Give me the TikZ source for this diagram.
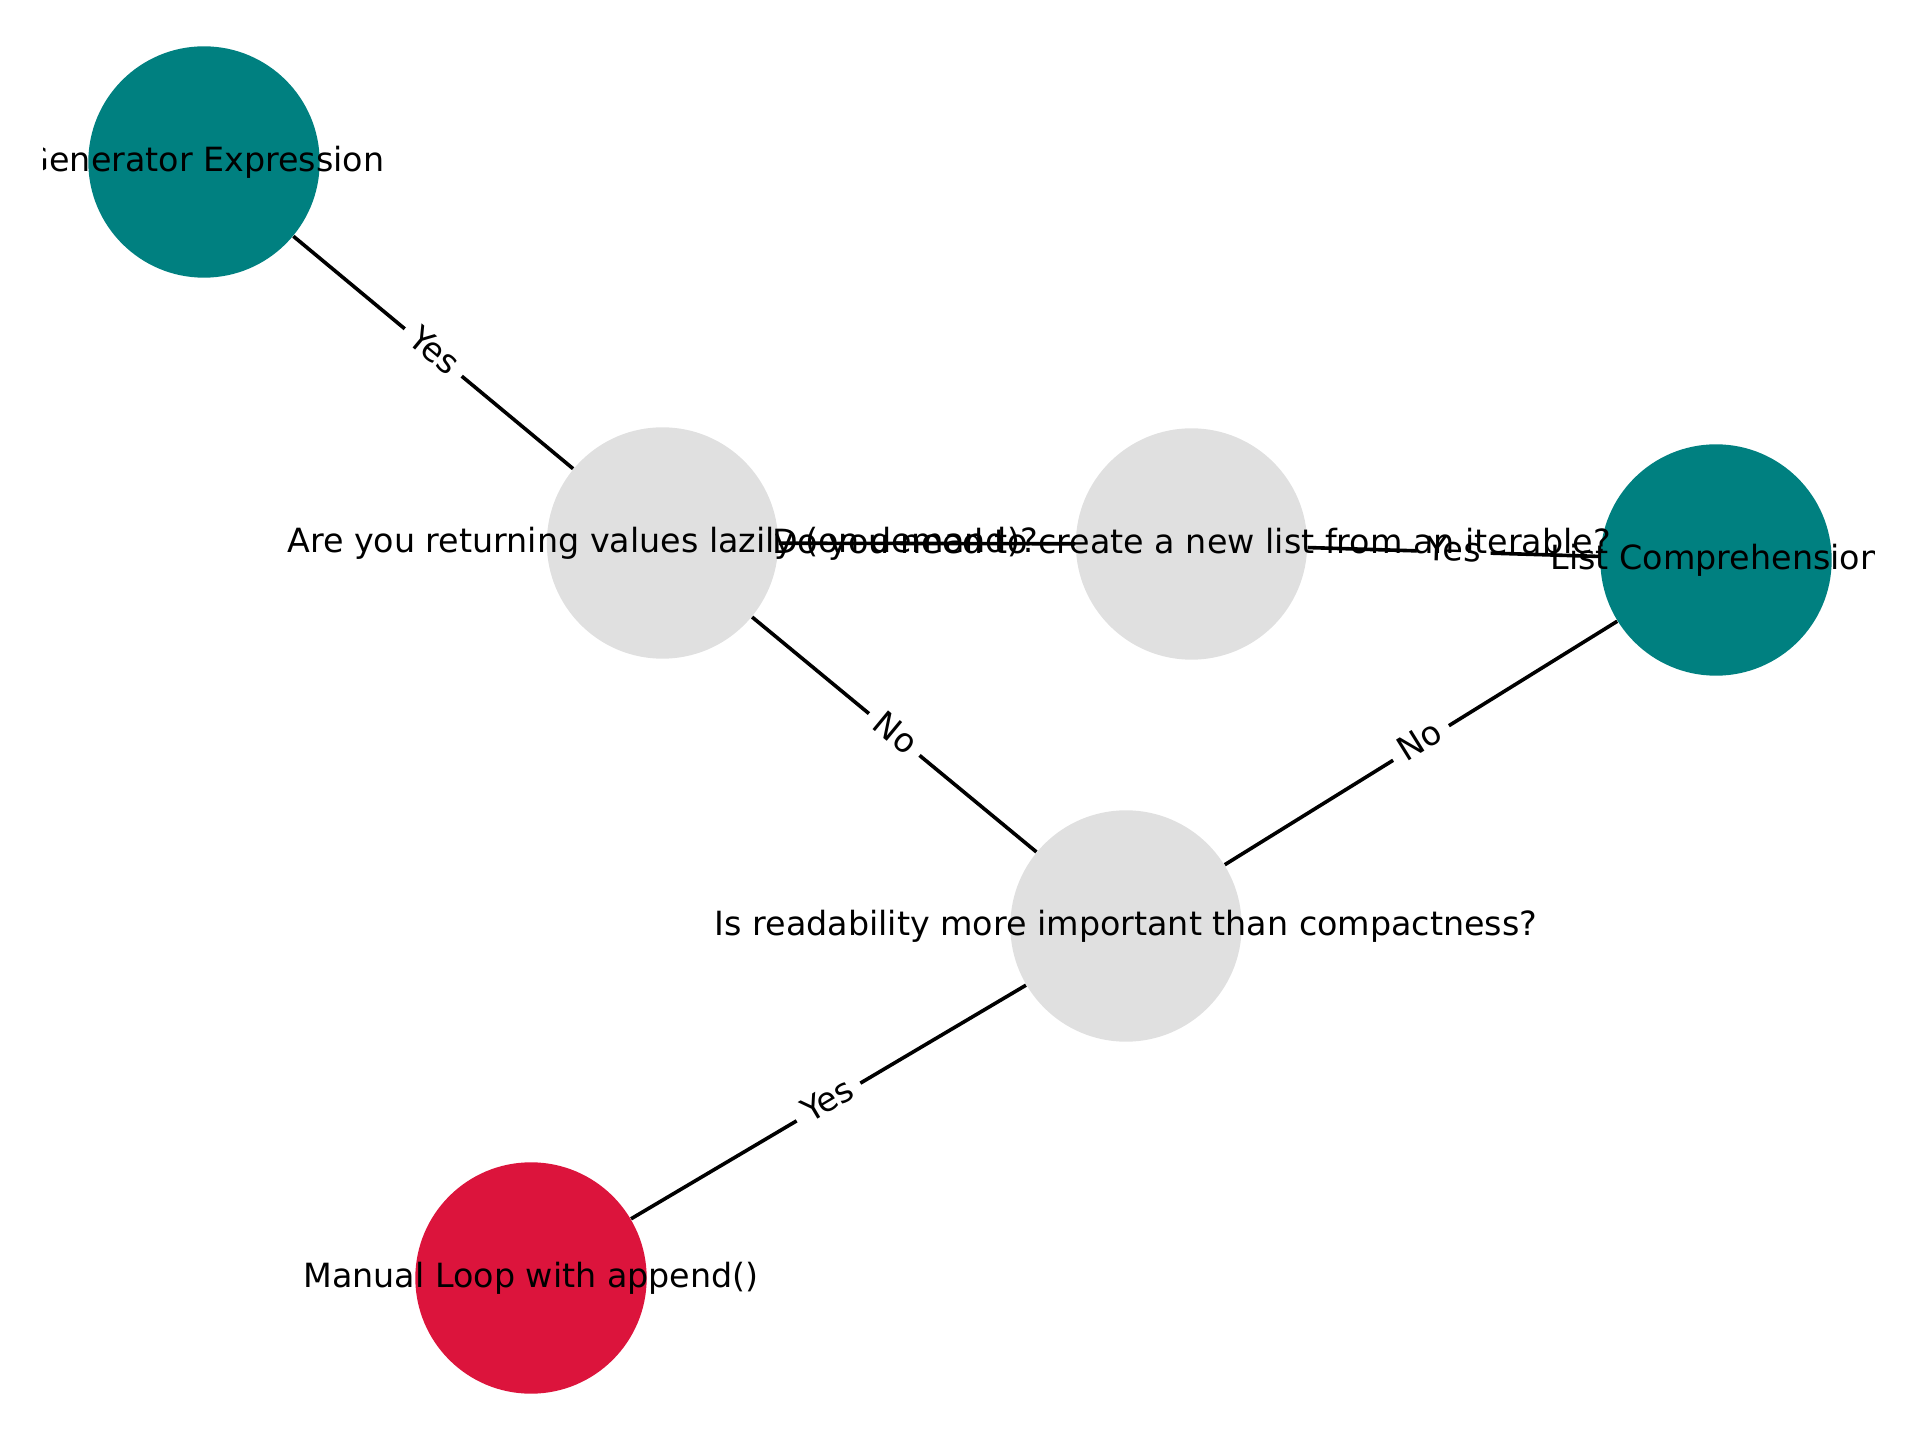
\documentclass[tikz,border=0pt]{standalone}
\usepackage{fontspec}
\setmainfont{DejaVu Sans}
\definecolor{qgray}{HTML}{E0E0E0}
\definecolor{ansteal}{HTML}{008080}
\definecolor{ansred}{HTML}{DC143C}
\begin{document}
\begin{tikzpicture}[x=0.36pt,y=-0.36pt,
  disc/.style={circle,minimum size=83.3pt,inner sep=0pt,draw=none},
  qnode/.style={disc,fill=qgray},
  anode/.style={disc,fill=ansteal},
  mnode/.style={disc,fill=ansred},
  txt/.style={font=\fontsize{12}{14}\selectfont,text height=9.1pt,text depth=2.5pt,inner sep=0pt,text=black},
  edge/.style={draw=black,line width=1.3pt},
  elabel/.style={midway,sloped,fill=white,rounded corners=3pt,inner sep=3.6pt,font=\fontsize{12}{14}\selectfont,text height=9.1pt,text depth=2.5pt}]
\useasboundingbox (0,0) rectangle (1920,1440);
\begin{scope}
\clip (43,40) rectangle (1874,1400);
% node discs
\node[anode] (gen) at (204,162) {};
\node[qnode] (lazy) at (662.5,543) {};
\node[qnode] (newlist) at (1191.5,544) {};
\node[anode] (listcomp) at (1716,560) {};
\node[qnode] (read) at (1126,926) {};
\node[mnode] (manual) at (531,1278) {};
% edges
\draw[edge] (lazy) -- node[elabel] {Yes} (gen);
\draw[edge] (lazy) -- node[elabel] {No} (read);
\draw[edge] (lazy) -- (newlist);
\draw[edge] (newlist) -- node[elabel] {Yes} (listcomp);
\draw[edge] (read) -- node[elabel] {No} (listcomp);
\draw[edge] (read) -- node[elabel] {Yes} (manual);
% node texts
\node[txt] (gen-t) at (gen.center) {Generator Expression};
\node[txt] (lazy-t) at (lazy.center) {Are you returning values lazily (on demand)?};
\node[txt] (newlist-t) at (newlist.center) {Do you need to create a new list from an iterable?};
\node[txt] (listcomp-t) at (listcomp.center) {List Comprehension};
\node[txt] (read-t) at (read.center) {Is readability more important than compactness?};
\node[txt] (manual-t) at (manual.center) {Manual Loop with append()};
\end{scope}
\end{tikzpicture}
\end{document}
